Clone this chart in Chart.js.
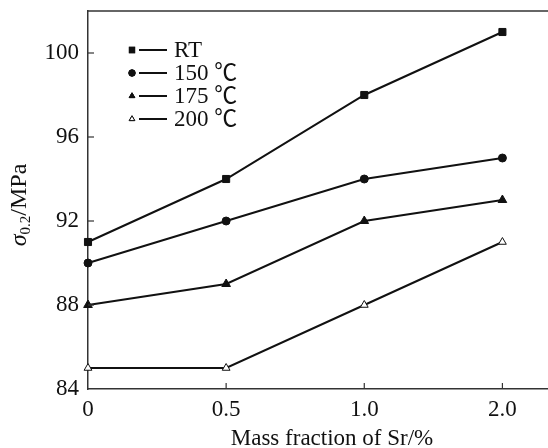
<!DOCTYPE html>
<html>
<head>
<meta charset="utf-8">
<script src="https://cdn.jsdelivr.net/npm/chart.js@4.4.0/dist/chart.umd.min.js"></script>
<style>
  body { margin: 0; background: #fff; }
  canvas { display: block; }
</style>
</head>
<body>
<canvas id="sr-chart" width="548" height="448"></canvas>
<script>
  // Sr content (%) - placed at equal spacing like the original figure
  const xLabels = ['0', '0.5', '1.0', '2.0'];
  const yTicks = [84, 88, 92, 96, 100];

  const seriesNames = ['RT', '150 \u2103', '175 \u2103', '200 \u2103'];
  const rtValues = [91, 94, 98, 101];
  const t150Values = [90, 92, 94, 95];
  const t175Values = [88, 89, 92, 93];
  const t200Values = [85, 85, 88, 91];

  const FONT = "'Liberation Serif', 'Noto Sans CJK SC', serif";
  const INK = '#111';

  function toPoints(values) {
    return values.map((v, i) => ({ x: i, y: v }));
  }

  const markers = [
    { style: 'rect', radius: 5, fill: INK },
    { style: 'circle', radius: 4, fill: INK },
    { style: 'triangle', radius: 5, fill: INK },
    { style: 'triangle', radius: 4.5, fill: '#fff' },
  ];

  const allValues = [rtValues, t150Values, t175Values, t200Values];

  const datasets = allValues.map((vals, i) => ({
    label: seriesNames[i],
    data: toPoints(vals),
    borderColor: INK,
    borderWidth: 2,
    pointStyle: markers[i].style,
    pointRadius: markers[i].radius,
    pointBackgroundColor: markers[i].fill,
    pointBorderColor: INK,
    pointBorderWidth: 1,
    tension: 0,
    clip: false,
  }));

  // inward ticks, top frame line, in-plot legend and the axis titles
  const extras = {
    id: 'extras',
    afterDraw(chart) {
      const ctx = chart.ctx;
      const area = chart.chartArea;
      const xs = chart.scales.x;
      const ys = chart.scales.y;
      ctx.save();
      ctx.strokeStyle = '#333';
      ctx.lineWidth = 1.5;

      ctx.beginPath();
      ctx.moveTo(area.left, area.top);
      ctx.lineTo(chart.width, area.top);
      ctx.stroke();

      ctx.lineWidth = 1.2;
      xLabels.forEach((lab, i) => {
        if (i === 0) return;
        const px = xs.getPixelForValue(i);
        ctx.beginPath();
        ctx.moveTo(px, area.bottom);
        ctx.lineTo(px, area.bottom - 6);
        ctx.stroke();
      });
      yTicks.forEach((v) => {
        if (v === ys.min) return;
        const py = ys.getPixelForValue(v);
        ctx.beginPath();
        ctx.moveTo(area.left, py);
        ctx.lineTo(area.left + 6, py);
        ctx.stroke();
      });

      // legend
      ctx.font = '23px ' + FONT;
      ctx.fillStyle = INK;
      ctx.textBaseline = 'middle';
      seriesNames.forEach((name, i) => {
        const cy = 50 + i * 23;
        const m = markers[i];
        Chart.helpers.drawPoint(ctx, {
          pointStyle: m.style,
          radius: m.style === 'rect' ? 3.6 : 3.2,
          borderWidth: 1,
        }, 132, cy);
        ctx.fillStyle = m.fill;
        ctx.strokeStyle = INK;
        ctx.fill();
        ctx.stroke();
        ctx.lineWidth = 2;
        ctx.beginPath();
        ctx.moveTo(139, cy);
        ctx.lineTo(167, cy);
        ctx.stroke();
        ctx.lineWidth = 1;
        ctx.fillStyle = INK;
        ctx.textAlign = 'left';
        ctx.fillText(name, 174, cy + 1);
      });

      // x title
      ctx.textAlign = 'center';
      ctx.textBaseline = 'alphabetic';
      ctx.font = '23px ' + FONT;
      ctx.fillText('Mass fraction of Sr/%', 332, 445);

      // y title: sigma_0.2/MPa
      ctx.translate(26, 205);
      ctx.rotate(-Math.PI / 2);
      const partA = '\u03C3';
      const partB = '0.2';
      const partC = '/MPa';
      ctx.font = 'italic 24px ' + FONT;
      const wA = ctx.measureText(partA).width;
      ctx.font = '15px ' + FONT;
      const wB = ctx.measureText(partB).width;
      ctx.font = '24px ' + FONT;
      const wC = ctx.measureText(partC).width;
      let x0 = -(wA + wB + wC) / 2;
      ctx.textAlign = 'left';
      ctx.font = 'italic 24px ' + FONT;
      ctx.fillText(partA, x0, 0);
      x0 += wA;
      ctx.font = '15px ' + FONT;
      ctx.fillText(partB, x0, 4);
      x0 += wB;
      ctx.font = '24px ' + FONT;
      ctx.fillText(partC, x0, 0);
      ctx.restore();
    },
  };

  new Chart(document.getElementById('sr-chart'), {
    type: 'line',
    data: { datasets: datasets },
    plugins: [extras],
    options: {
      responsive: false,
      animation: false,
      devicePixelRatio: 1,
      layout: { autoPadding: false, padding: { top: 11, right: 0, left: 0, bottom: 0 } },
      plugins: {
        legend: { display: false },
        tooltip: { enabled: false },
      },
      scales: {
        x: {
          type: 'linear',
          min: 0,
          max: 3.33,
          afterFit: (scale) => {
            scale.height = 59;
            scale.paddingLeft = 0;
            scale.paddingRight = 0;
          },
          grid: { display: false, drawTicks: false },
          border: { display: true, color: '#333', width: 1.5 },
          ticks: {
            stepSize: 1,
            includeBounds: false,
            maxRotation: 0,
            autoSkip: false,
            padding: 7,
            color: INK,
            font: { family: FONT, size: 23 },
            callback: (v) => xLabels[v],
          },
        },
        y: {
          min: 84,
          max: 102,
          afterFit: (scale) => {
            scale.width = 88;
            scale.paddingTop = 0;
            scale.paddingBottom = 0;
          },
          grid: { display: false, drawTicks: false },
          border: { display: true, color: '#333', width: 1.5 },
          ticks: {
            stepSize: 4,
            includeBounds: false,
            padding: 9,
            color: INK,
            font: { family: FONT, size: 23 },
            callback: (v) => (yTicks.includes(v) ? String(v) : null),
          },
        },
      },
    },
  });
</script>
</body>
</html>
